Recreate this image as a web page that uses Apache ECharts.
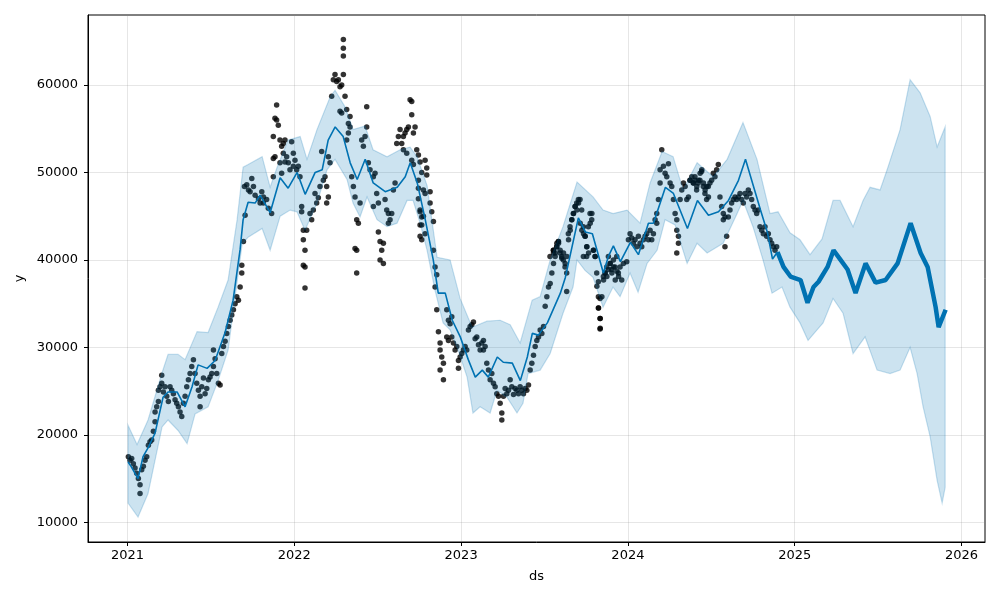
<!DOCTYPE html>
<html>
<head>
<meta charset="utf-8">
<title>forecast</title>
<script src="https://cdn.jsdelivr.net/npm/echarts@6/dist/echarts.min.js"></script>
<style>
  html, body { margin: 0; background: #fff; }
  #chart { width: 1000px; height: 600px; }
</style>
</head>
<body>
<div id="chart"></div>
<script>
// forecast line (yhat), ds as decimal year
const lineDs = [2021.003, 2021.021, 2021.063, 2021.093, 2021.123, 2021.165, 2021.213, 2021.243, 2021.297, 2021.345, 2021.387,
  2021.423, 2021.477, 2021.525, 2021.585, 2021.633, 2021.675, 2021.693, 2021.723, 2021.765, 2021.795, 2021.855,
  2021.915, 2021.963, 2022.017, 2022.065, 2022.125, 2022.167, 2022.203, 2022.245, 2022.293, 2022.335, 2022.377,
  2022.425, 2022.473, 2022.545, 2022.617, 2022.665, 2022.695, 2022.737, 2022.785, 2022.833, 2022.863, 2022.905,
  2022.947, 2022.995, 2023.043, 2023.085, 2023.127, 2023.163, 2023.217, 2023.253, 2023.307, 2023.355, 2023.397,
  2023.427, 2023.463, 2023.517, 2023.595, 2023.625, 2023.703, 2023.745, 2023.787, 2023.853, 2023.883, 2023.913,
  2023.955, 2024.015, 2024.063, 2024.123, 2024.153, 2024.225, 2024.273, 2024.357, 2024.417, 2024.483, 2024.543,
  2024.603, 2024.663, 2024.705, 2024.747, 2024.795, 2024.837, 2024.867, 2024.897, 2024.933, 2024.975, 2025.035,
  2025.077, 2025.113, 2025.143, 2025.197, 2025.233, 2025.275, 2025.317, 2025.365, 2025.425, 2025.485, 2025.545,
  2025.617, 2025.695, 2025.755, 2025.797, 2025.845, 2025.863, 2025.905];
const lineY = [16900, 16400, 15000, 17500, 18500, 20200, 24300, 24900, 24900, 23200, 25500,
  28000, 27600, 28500, 31700, 35400, 41200, 44600, 46600, 46500, 47400, 45400,
  49400, 48200, 50000, 47500, 50000, 50300, 53700, 55200, 54100, 51100, 49200,
  51500, 48800, 47800, 48300, 49500, 51100, 48800, 44600, 40000, 36200, 36200,
  33100, 31200, 28600, 26600, 27400, 26600, 28900, 28300, 28200, 26200, 28900,
  31600, 31400, 32800, 36200, 38000, 44800, 43200, 43000, 38500, 40400, 41600,
  39800, 42000, 40600, 44200, 44200, 48300, 47600, 43600, 46800, 45100, 45500,
  46800, 49100, 51500, 48800, 45700, 43100, 40100, 40900, 39200, 38100, 37700,
  35100, 36900, 37500, 39200, 41100, 40000, 38900, 36200, 39600, 37400, 37700,
  39600, 44200, 40800, 39200, 34600, 32300, 34300];

// uncertainty interval, upper edge
const upDs = [2021.003, 2021.057, 2021.123, 2021.207, 2021.243, 2021.303, 2021.345, 2021.417, 2021.483, 2021.543,
  2021.603, 2021.657, 2021.693, 2021.723, 2021.807, 2021.855, 2021.897, 2021.963, 2022.035, 2022.076, 2022.136,
  2022.214, 2022.244, 2022.304, 2022.352, 2022.424, 2022.472, 2022.556, 2022.634, 2022.694, 2022.736, 2022.796,
  2022.856, 2022.934, 2022.994, 2023.066, 2023.155, 2023.234, 2023.294, 2023.354, 2023.426, 2023.474, 2023.534,
  2023.611, 2023.695, 2023.791, 2023.851, 2023.911, 2023.995, 2024.073, 2024.133, 2024.205, 2024.271, 2024.331,
  2024.415, 2024.511, 2024.595, 2024.690, 2024.774, 2024.852, 2024.900, 2024.972, 2025.032, 2025.092, 2025.164,
  2025.230, 2025.272, 2025.350, 2025.410, 2025.452, 2025.512, 2025.554, 2025.632, 2025.692, 2025.752, 2025.812,
  2025.854, 2025.902];
const upY = [21100, 18900, 21700, 27100, 29200, 29200, 28600, 31800, 31700, 34600,
  37700, 44600, 50600, 50900, 51800, 48300, 50600, 53700, 54100, 51500, 54900,
  58600, 59400, 57500, 54900, 55300, 52600, 51800, 52600, 52900, 51800, 48500,
  40300, 40000, 35600, 32300, 33000, 33100, 32600, 30500, 35400, 35800, 40000,
  43800, 48900, 47200, 45700, 45300, 45700, 44200, 48800, 52400, 51800, 48000,
  51100, 49500, 51500, 55700, 51500, 45300, 45500, 43100, 42300, 40600, 42400,
  46800, 46800, 43800, 46800, 48300, 48000, 50300, 54900, 60600, 59100, 56400,
  52900, 55200];

// uncertainty interval, lower edge
const loDs = [2021.003, 2021.063, 2021.123, 2021.207, 2021.243, 2021.303, 2021.357, 2021.405, 2021.483, 2021.543,
  2021.603, 2021.645, 2021.687, 2021.723, 2021.807, 2021.855, 2021.915, 2021.975, 2022.016, 2022.064, 2022.136,
  2022.196, 2022.244, 2022.316, 2022.352, 2022.394, 2022.436, 2022.496, 2022.556, 2022.616, 2022.676, 2022.712,
  2022.754, 2022.796, 2022.844, 2022.892, 2022.934, 2022.982, 2023.036, 2023.071, 2023.114, 2023.174, 2023.215,
  2023.275, 2023.335, 2023.371, 2023.401, 2023.474, 2023.534, 2023.611, 2023.671, 2023.695, 2023.743, 2023.791,
  2023.851, 2023.911, 2023.953, 2024.013, 2024.061, 2024.115, 2024.175, 2024.223, 2024.283, 2024.355, 2024.415,
  2024.475, 2024.571, 2024.655, 2024.690, 2024.750, 2024.810, 2024.864, 2024.924, 2024.972, 2025.032, 2025.080,
  2025.134, 2025.170, 2025.230, 2025.290, 2025.350, 2025.422, 2025.494, 2025.572, 2025.632, 2025.692, 2025.734,
  2025.770, 2025.812, 2025.854, 2025.884, 2025.902];
const loY = [12200, 10600, 13300, 20900, 21700, 20500, 19000, 22400, 23200, 26200,
  29700, 35800, 41800, 42600, 43600, 41100, 45000, 45700, 45500, 43400, 46500,
  50300, 51500, 49200, 46500, 44900, 47200, 44600, 43800, 44200, 46800, 46800,
  44200, 41100, 36500, 32800, 32000, 29700, 26600, 22500, 23200, 22500, 25100,
  24300, 22500, 23600, 27000, 27400, 29300, 33900, 36900, 40000, 38800, 38000,
  34600, 36900, 35800, 38500, 36300, 39600, 41100, 44600, 44000, 39600, 41900,
  40800, 41900, 45300, 46800, 43800, 40000, 36200, 36900, 34600, 32800, 30800,
  32000, 32800, 35600, 33900, 29300, 31200, 27400, 27000, 27400, 30000, 27000,
  23200, 19800, 14800, 12200, 14000];

// observed points [ds, y]
const obs2021 = [[2021.005,17500],[2021.015,17100],[2021.025,17300],[2021.035,16700],[2021.045,16200],[2021.055,15600],
  [2021.065,15000],[2021.075,14300],[2021.075,13300],[2021.085,16000],[2021.095,16400],[2021.105,17100],[2021.115,17500],
  [2021.125,18800],[2021.135,19200],[2021.145,19400],[2021.155,20400],[2021.165,21500],[2021.165,22600],[2021.175,23200],
  [2021.185,23800],[2021.185,25100],[2021.195,25500],[2021.205,25900],[2021.205,26800],[2021.215,24900],[2021.225,25500],
  [2021.235,24400],[2021.245,23800],[2021.255,25500],[2021.265,25100],[2021.275,24700],[2021.285,24000],[2021.295,23600],
  [2021.305,23200],[2021.315,22600],[2021.325,22100],[2021.335,23600],[2021.345,24400],[2021.355,25500],[2021.365,26300],
  [2021.375,27000],[2021.385,27800],[2021.395,28600],[2021.405,27000],[2021.415,25900],[2021.425,25100],[2021.435,24400],
  [2021.435,23200],[2021.445,25500],[2021.455,26500],[2021.465,24700],[2021.475,25300],[2021.485,26300],[2021.495,26600],
  [2021.505,27000],[2021.515,27800],[2021.515,29700],[2021.525,28700],[2021.535,27000],[2021.545,25900],[2021.555,25700],
  [2021.565,29300],[2021.575,30100],[2021.585,30700],[2021.595,31600],[2021.605,32400],[2021.615,33100],[2021.625,33700],
  [2021.635,34300],[2021.645,35000],[2021.655,35800],[2021.665,35400],[2021.675,36900],[2021.685,38500],[2021.685,39400],
  [2021.695,42100],[2021.705,45100],[2021.701,48400],[2021.715,48600],[2021.725,48000],[2021.735,47800],[2021.745,49300],
  [2021.755,48400],[2021.765,47400],[2021.785,47000],[2021.795,46500],[2021.805,47800],[2021.815,47200],
  [2021.814,46500],[2021.834,46900],[2021.844,45900],[2021.864,45300],[2021.874,49500],[2021.874,54100],[2021.884,56200],
  [2021.894,57700],[2021.894,56000],[2021.904,55400],[2021.884,51800],[2021.874,51600],[2021.914,53700],[2021.924,53000],
  [2021.934,53300],[2021.944,53700],[2021.914,51100],[2021.924,49900],[2021.934,52200],[2021.944,51200],[2021.954,51800],
  [2021.964,51100],[2021.974,50300],[2021.984,53500],[2021.994,52200],[2021.994,50700]];
const obs2022 = [[2022.004,51400],[2022.014,50300],[2022.024,50700],[2022.034,49500],[2022.044,46100],[2022.044,45500],
  [2022.054,43400],[2022.054,42300],[2022.064,41100],[2022.054,39400],[2022.064,39200],[2022.064,36800],[2022.074,43400],
  [2022.094,45300],[2022.104,44600],[2022.114,45700],[2022.124,47600],[2022.134,46500],[2022.144,47100],[2022.154,48400],
  [2022.164,52400],[2022.174,49100],[2022.184,49500],[2022.194,48400],[2022.204,47200],[2022.194,46500],[2022.204,51800],
  [2022.214,51100],[2022.224,58700],[2022.234,60600],[2022.244,61200],[2022.254,60400],[2022.264,60600],[2022.274,59800],
  [2022.284,60000],[2022.294,61200],[2022.294,63300],[2022.294,64200],[2022.294,65200],[2022.304,58700],[2022.274,57000],
  [2022.284,56800],[2022.314,57200],[2022.324,55600],[2022.334,55200],[2022.324,54500],[2022.314,53700],[2022.334,56400],
  [2022.344,49500],[2022.354,48400],[2022.364,47200],[2022.374,44600],[2022.384,44200],[2022.364,41300],[2022.374,41100],
  [2022.374,38500],[2022.394,46500],[2022.404,53700],[2022.414,53000],[2022.424,54100],[2022.434,57500],[2022.434,55200],
  [2022.444,51100],[2022.454,50300],[2022.474,49500],[2022.484,49900],[2022.474,46100],[2022.494,47600],[2022.504,46500],
  [2022.504,43200],[2022.514,42100],[2022.524,41100],[2022.534,41900],[2022.514,40000],[2022.534,39600],[2022.544,46900],
  [2022.554,45700],[2022.564,45300],[2022.574,44600],[2022.564,44200],[2022.584,45300],[2022.594,48000],[2022.604,48800],
  [2022.614,53300],[2022.624,54100],[2022.634,54900],[2022.644,53300],[2022.654,54100],[2022.664,54500],[2022.674,54900],
  [2022.684,55200],[2022.694,58300],[2022.704,58100],[2022.704,56600],[2022.714,54500],[2022.724,55200],[2022.734,52600],
  [2022.744,52000],[2022.754,51200],[2022.764,50000],[2022.744,47000],[2022.754,45500],[2022.764,44000],[2022.774,45000],
  [2022.784,43000],[2022.654,52600],[2022.674,52200],[2022.704,51400],[2022.714,50900],[2022.784,51400],[2022.794,50500],
  [2022.794,49700],[2022.744,49100],[2022.744,48200],[2022.774,48000],[2022.784,47600],[2022.814,47800],[2022.814,46500],
  [2022.824,45500],[2022.834,44400],[2022.754,45700],[2022.764,44900],[2022.754,44000],[2022.754,42700],[2022.764,42300],
  [2022.834,41100],[2022.844,39200],[2022.854,38300],[2022.844,36900],[2022.854,34300],[2022.864,31800],[2022.874,30500],
  [2022.874,29700],[2022.884,28900],[2022.894,28200],[2022.874,27400],[2022.894,26300],[2022.914,34300],[2022.924,33100],
  [2022.934,32700],[2022.944,33500],[2022.914,31200],[2022.924,30800],[2022.944,31200],[2022.954,30500],[2022.964,29700],
  [2022.974,30100],[2022.984,28500],[2022.984,27600],[2022.994,28900]];
const obs2023 = [[2023.004,29300],[2023.014,29700],[2023.024,30100],[2023.034,29700],[2023.044,32000],[2023.054,32400],
  [2023.064,32600],[2023.074,32900],[2023.084,31000],[2023.094,31200],[2023.104,30300],[2023.114,29700],[2023.124,30500],
  [2023.134,30800],[2023.134,29700],[2023.144,30100],[2023.154,28200],[2023.164,27400],[2023.174,26300],[2023.184,27000],
  [2023.194,25900],[2023.204,25500],[2023.214,24700],[2023.224,24400],[2023.234,23600],[2023.244,22500],[2023.244,21700],
  [2023.254,24400],[2023.264,25300],[2023.274,24700],[2023.284,25100],[2023.294,26300],[2023.304,25500],[2023.314,24600],
  [2023.324,25300],[2023.334,25100],[2023.344,24700],[2023.354,25500],[2023.364,25100],[2023.374,24700],[2023.384,25300],
  [2023.394,25100],[2023.404,25700],[2023.414,27400],[2023.424,28200],[2023.434,29100],[2023.444,30100],[2023.454,30800],
  [2023.464,31200],[2023.474,32000],[2023.484,31600],[2023.494,32400],[2023.504,34700],[2023.514,35800],[2023.524,36900],
  [2023.534,37300],[2023.544,38500],[2023.554,39600],[2023.554,40800],[2023.564,40400],[2023.574,41500],[2023.584,41900],
  [2023.554,41100],[2023.564,40800],[2023.574,41900],[2023.584,42100],[2023.594,41100],[2023.604,40200],[2023.614,40800],
  [2023.624,39600],[2023.634,40400],[2023.644,42300],[2023.654,43400],[2023.664,44600],[2023.674,45300],[2023.684,46100],
  [2023.694,45700],[2023.704,46500],[2023.714,44200],[2023.724,43400],[2023.734,43000],[2023.744,42700],[2023.754,41500],
  [2023.764,40800],[2023.774,44200],[2023.784,45300],[2023.794,41100],[2023.804,40400],[2023.814,37000],[2023.824,34500],
  [2023.834,33300],[2023.834,32200],[2023.844,35800],[2023.854,37700],[2023.864,38500],[2023.874,38100],[2023.884,38900],
  [2023.894,39600],[2023.904,38500],[2023.914,39200],[2023.924,37700],[2023.934,38700],[2023.944,38100],
  [2023.533,40400],[2023.553,41100],[2023.573,41500],[2023.583,42100],[2023.593,40800],[2023.603,40400],[2023.613,40000],
  [2023.623,39200],[2023.633,38500],[2023.633,36400],[2023.643,43000],[2023.653,43800],[2023.663,44600],[2023.673,45300],
  [2023.683,46100],[2023.693,46500],[2023.703,46900],[2023.713,46900],[2023.723,45700],[2023.733,43800],[2023.743,42700],
  [2023.753,41500],[2023.763,43800],[2023.773,45300],[2023.783,44600],[2023.733,40400],[2023.753,40400],[2023.793,41100],
  [2023.803,40400],[2023.813,38500],[2023.823,37500],[2023.823,35800],[2023.833,35600],[2023.823,34500],[2023.833,33300],
  [2023.833,32100],[2023.853,38100],[2023.863,38500],[2023.873,39200],[2023.883,40400],[2023.893,39600],[2023.903,38900],
  [2023.913,40000],[2023.923,39200],[2023.933,40400],[2023.943,38500],[2023.953,39200],[2023.963,37700],[2023.973,39600],
  [2023.993,39800]];
const obs2024 = [[2024.003,42300],[2024.013,43000],[2024.023,42500],[2024.033,41900],[2024.043,42300],[2024.053,41500],
  [2024.063,42700],[2024.073,41900],[2024.083,41500],[2024.093,42300],[2024.103,42700],[2024.113,43000],[2024.123,42300],
  [2024.133,43400],[2024.143,42300],[2024.153,43000],[2024.163,44600],[2024.173,45300],[2024.173,44200],[2024.183,46900],
  [2024.193,48800],[2024.193,50300],[2024.203,52600],[2024.213,50700],[2024.223,49900],[2024.233,49500],[2024.243,51000],
  [2024.253,48800],[2024.263,48400],[2024.273,46900],[2024.283,45300],[2024.293,44600],[2024.293,43400],[2024.303,42700],
  [2024.293,40800],[2024.303,41900],[2024.313,46900],[2024.323,48000],[2024.333,48800],[2024.343,48400],[2024.353,46900],
  [2024.363,47200],[2024.373,49100],[2024.383,49500],[2024.393,48800],[2024.403,49100],[2024.413,48400],[2024.423,49100],
  [2024.433,49900],[2024.443,50300],[2024.453,48800],[2024.463,48000],[2024.473,48400],[2024.483,47200],
  [2024.372,49100],[2024.392,48800],[2024.402,49500],[2024.412,48000],[2024.422,48800],[2024.432,49100],[2024.442,50100],
  [2024.452,48400],[2024.462,47600],[2024.472,46900],[2024.482,48400],[2024.492,48800],[2024.502,49100],[2024.512,49900],
  [2024.522,49500],[2024.532,50300],[2024.542,50900],[2024.552,47200],[2024.562,46100],[2024.572,45300],[2024.572,44600],
  [2024.582,44900],[2024.592,42700],[2024.582,41500],[2024.602,44900],[2024.612,45700],[2024.622,46500],[2024.632,46900],
  [2024.642,47200],[2024.652,46900],[2024.662,47200],[2024.672,47600],[2024.682,46900],[2024.692,46500],[2024.702,47600],
  [2024.712,47200],[2024.722,48000],[2024.732,47600],[2024.742,46900],[2024.752,46100],[2024.762,45700],[2024.772,45300],
  [2024.782,45700],[2024.792,43800],[2024.802,43400],[2024.812,43000],[2024.822,43800],[2024.832,42700],[2024.842,43000],
  [2024.852,42300],[2024.862,41900],[2024.872,41500],[2024.882,41100],[2024.892,41500]];

const xTicks = [2021, 2022, 2023, 2024, 2025, 2026];
const yTicks = [10000, 20000, 30000, 40000, 50000, 60000];
const lastObserved = 2024.897;
const dsMin = 2020.763, dsMax = 2026.141;
const yMin = 7750, yMax = 68000;

const chart = echarts.init(document.getElementById('chart'));

const linePts = lineDs.map((d, i) => [d, lineY[i]]);
const histLine = linePts.filter(p => p[0] <= lastObserved);
const futLine = linePts.filter(p => p[0] >= lastObserved);
const observed = obs2021.concat(obs2022, obs2023, obs2024);

const axisText = { color: '#000', fontSize: 13, fontFamily: 'DejaVu Sans' };
const gridLine = { show: true, lineStyle: { color: 'rgba(128,128,128,0.2)', width: 1 } };

const option = {
  animation: false,
  textStyle: { fontFamily: 'DejaVu Sans' },
  grid: { left: 88, right: 15, top: 15, bottom: 58, show: true, borderColor: '#000', borderWidth: 1 },
  xAxis: {
    type: 'value', min: dsMin, max: dsMax,
    name: 'ds', nameLocation: 'middle', nameGap: 28, nameTextStyle: axisText,
    axisLine: { show: true, lineStyle: { color: '#000', width: 1 } },
    axisTick: { show: true, length: 4, customValues: xTicks, lineStyle: { color: '#000' } },
    axisLabel: Object.assign({ margin: 7, customValues: xTicks, formatter: v => String(v) }, axisText),
    splitLine: gridLine
  },
  yAxis: {
    type: 'value', min: yMin, max: yMax,
    name: 'y', nameLocation: 'middle', nameGap: 55, nameTextStyle: axisText,
    axisLine: { show: true, lineStyle: { color: '#000', width: 1 } },
    axisTick: { show: true, length: 4, customValues: yTicks, lineStyle: { color: '#000' } },
    axisLabel: Object.assign({ margin: 10, customValues: yTicks, formatter: v => String(v) }, axisText),
    splitLine: gridLine
  },
  series: [
    {
      type: 'scatter', data: observed, symbol: 'circle', symbolSize: 5.5, z: 2,
      itemStyle: { color: '#000' }, silent: true
    },
    {
      type: 'line', data: histLine, showSymbol: false, z: 3,
      lineStyle: { color: '#0072B2', width: 1.6 }, silent: true
    },
    {
      type: 'line', data: futLine, showSymbol: false, z: 3,
      lineStyle: { color: '#0072B2', width: 4.5 }, silent: true
    },
    {
      type: 'custom', z: 4, silent: true,
      data: [[upDs[0], upY[0]]],
      renderItem: function (params, api) {
        const pts = [];
        for (let i = 0; i < upDs.length; i++) pts.push(api.coord([upDs[i], upY[i]]));
        for (let i = loDs.length - 1; i >= 0; i--) pts.push(api.coord([loDs[i], loY[i]]));
        return {
          type: 'polygon',
          shape: { points: pts },
          style: { fill: 'rgba(0,114,178,0.2)', stroke: 'rgba(0,114,178,0.22)', lineWidth: 1.2 }
        };
      }
    }
  ]
};

chart.setOption(option);
</script>
</body>
</html>
